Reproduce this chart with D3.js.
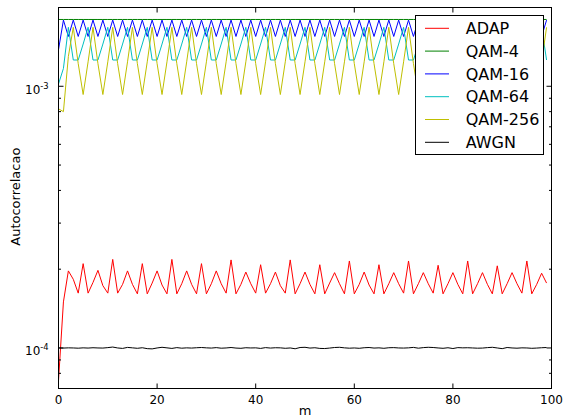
<!DOCTYPE html>
<html><head><meta charset="utf-8">
<script src="https://cdn.jsdelivr.net/npm/d3@7"></script>
<style>html,body{margin:0;padding:0;background:#fff;} svg{display:block;font-family:"DejaVu Sans",sans-serif;}</style>
</head><body><svg id="c" width="564" height="416"></svg>
<script>
// lag index m
const lags = d3.range(0, 100);
// series names and colours
const seriesNames = ["ADAP", "QAM-4", "QAM-16", "QAM-64", "QAM-256", "AWGN"];
const seriesColors = ["#ff0000", "#008000", "#0000ff", "#00bfbf", "#bfbf00", "#000000"];

// ADAP (x1e-4)
const adapE4 = [
0.75,1.50,1.97,1.83,1.62,2.10,1.62,1.78,1.98,1.73,
1.62,2.18,1.62,1.75,1.97,1.75,1.61,2.10,1.61,1.77,
1.97,1.74,1.61,2.18,1.61,1.76,1.97,1.75,1.61,2.10,
1.61,1.76,1.97,1.76,1.62,2.17,1.61,1.75,1.95,1.76,
1.62,2.08,1.62,1.76,1.95,1.73,1.62,2.17,1.61,1.76,
1.95,1.75,1.61,2.08,1.61,1.77,1.94,1.76,1.61,2.15,
1.61,1.75,1.95,1.74,1.61,2.08,1.61,1.76,1.94,1.76,
1.62,2.15,1.61,1.76,1.94,1.76,1.62,2.07,1.61,1.76,
1.94,1.75,1.61,2.15,1.61,1.76,1.94,1.75,1.61,2.06,
1.61,1.76,1.94,1.76,1.62,2.15,1.61,1.75,1.93,1.77];
// QAM-4 (x1e-3)
const qam4E3 = [
1.80,1.80,1.80,1.80,1.80,1.80,1.80,1.80,1.80,1.80,
1.80,1.80,1.80,1.80,1.80,1.80,1.80,1.80,1.80,1.80,
1.80,1.80,1.80,1.80,1.80,1.80,1.80,1.80,1.80,1.80,
1.80,1.80,1.80,1.80,1.80,1.80,1.80,1.80,1.80,1.80,
1.80,1.80,1.80,1.80,1.80,1.80,1.80,1.80,1.80,1.80,
1.80,1.80,1.80,1.80,1.80,1.80,1.80,1.80,1.80,1.80,
1.80,1.80,1.80,1.80,1.80,1.80,1.80,1.80,1.80,1.80,
1.80,1.80,1.80,1.80,1.80,1.80,1.80,1.80,1.80,1.80,
1.80,1.80,1.80,1.80,1.80,1.80,1.80,1.80,1.80,1.80,
1.80,1.80,1.80,1.80,1.80,1.80,1.80,1.80,1.80,1.80];
// QAM-16 (x1e-3)
const qam16E3 = [
1.38,1.79,1.55,1.79,1.55,1.79,1.55,1.79,1.55,1.79,
1.55,1.79,1.55,1.79,1.55,1.79,1.55,1.79,1.55,1.79,
1.55,1.79,1.55,1.79,1.55,1.79,1.55,1.79,1.55,1.79,
1.55,1.79,1.55,1.79,1.55,1.79,1.55,1.79,1.55,1.79,
1.55,1.79,1.55,1.79,1.55,1.79,1.55,1.79,1.55,1.79,
1.55,1.79,1.55,1.79,1.55,1.79,1.55,1.79,1.55,1.79,
1.55,1.79,1.55,1.79,1.55,1.79,1.55,1.79,1.55,1.79,
1.55,1.79,1.55,1.79,1.55,1.79,1.55,1.79,1.55,1.79,
1.55,1.79,1.55,1.79,1.55,1.79,1.55,1.79,1.55,1.79,
1.55,1.79,1.55,1.79,1.55,1.79,1.55,1.79,1.55,1.79];
// QAM-64 (x1e-3)
const qam64E3 = [
1.02,1.17,1.68,1.26,1.26,1.45,1.68,1.26,1.26,1.45,
1.68,1.26,1.26,1.45,1.68,1.26,1.26,1.45,1.68,1.26,
1.26,1.45,1.68,1.26,1.26,1.45,1.68,1.26,1.26,1.45,
1.68,1.26,1.26,1.45,1.68,1.26,1.26,1.45,1.68,1.26,
1.26,1.45,1.68,1.26,1.26,1.45,1.68,1.26,1.26,1.45,
1.68,1.26,1.26,1.45,1.68,1.26,1.26,1.45,1.68,1.26,
1.26,1.45,1.68,1.26,1.26,1.45,1.68,1.26,1.26,1.45,
1.68,1.26,1.26,1.45,1.68,1.26,1.26,1.45,1.68,1.26,
1.26,1.45,1.68,1.26,1.26,1.45,1.68,1.26,1.26,1.45,
1.68,1.26,1.26,1.45,1.68,1.26,1.26,1.45,1.68,1.26];
// QAM-256 (x1e-3)
const qam256E3 = [
0.82,0.80,1.30,1.68,1.22,0.93,1.24,1.68,1.22,0.93,
1.24,1.68,1.22,0.93,1.24,1.68,1.22,0.93,1.24,1.68,
1.22,0.93,1.24,1.68,1.22,0.93,1.24,1.68,1.22,0.93,
1.24,1.68,1.22,0.93,1.24,1.68,1.22,0.93,1.24,1.68,
1.22,0.93,1.24,1.68,1.22,0.93,1.24,1.68,1.22,0.93,
1.24,1.68,1.22,0.93,1.24,1.68,1.22,0.93,1.24,1.68,
1.22,0.93,1.24,1.68,1.22,0.93,1.24,1.68,1.22,0.93,
1.24,1.68,1.22,0.93,1.24,1.68,1.22,0.93,1.24,1.68,
1.22,0.93,1.24,1.68,1.22,0.93,1.24,1.68,1.22,0.93,
1.24,1.68,1.22,0.93,1.24,1.68,1.22,0.93,1.24,1.68];
// AWGN (x1e-4)
const awgnE4 = [
1.000,0.999,1.001,1.000,0.998,1.001,0.999,1.002,1.000,0.999,
1.003,1.008,1.000,0.996,1.005,1.001,0.997,1.002,0.994,0.992,
1.000,1.006,1.001,0.996,1.003,0.998,1.001,0.999,1.002,1.004,
1.001,0.999,1.003,0.998,1.000,1.004,0.999,0.997,1.002,1.000,
1.001,0.996,1.003,0.999,1.002,1.001,0.997,1.000,0.993,1.004,
1.006,0.999,1.002,0.996,0.995,0.999,1.004,1.006,1.001,0.998,
1.000,0.997,1.002,1.004,0.999,1.001,0.997,1.002,1.003,1.000,
0.999,1.001,1.005,0.998,1.003,1.006,1.004,1.000,0.997,1.002,
0.995,1.003,1.001,1.002,1.000,0.998,0.999,1.003,1.006,1.000,
0.994,1.004,1.000,0.998,1.001,1.000,0.997,0.999,1.002,1.004];

const xTicks = [0, 20, 40, 60, 80, 100];
const yMajorTicks = [1e-4, 1e-3];
const yMajorExp = ["-4", "-3"];
const yMinorTicks = [8e-5, 9e-5, 2e-4, 3e-4, 4e-4, 5e-4, 6e-4, 7e-4, 8e-4, 9e-4];

const seriesData = [
  adapE4.map(v => v * 1e-4),
  qam4E3.map(v => v * 1e-3),
  qam16E3.map(v => v * 1e-3),
  qam64E3.map(v => v * 1e-3),
  qam256E3.map(v => v * 1e-3),
  awgnE4.map(v => v * 1e-4)
];

const L = 58.5, R = 551.5, T = 7.5, B = 388.5;
const svg = d3.select("#c");
svg.append("rect").attr("width", 564).attr("height", 416).attr("fill", "#fff");

const x = d3.scaleLinear().domain([0, 100]).range([L, R]);
const y = d3.scaleLog().domain([7e-5, 2e-3]).range([B, T]);

svg.append("defs").append("clipPath").attr("id", "clip")
  .append("rect").attr("x", L).attr("y", T).attr("width", R - L).attr("height", B - T);

const line = d3.line().x((d, i) => x(lags[i])).y(d => y(d));
const plot = svg.append("g").attr("clip-path", "url(#clip)");
seriesData.forEach((s, k) => {
  plot.append("path").datum(s).attr("d", line)
    .attr("fill", "none").attr("stroke", seriesColors[k]).attr("stroke-width", 1)
    .attr("stroke-linejoin", "round");
});

function styleAxis(g) {
  g.select(".domain").remove();
  g.selectAll(".tick line").attr("stroke", "#000").attr("stroke-width", 1);
}
// bottom
svg.append("g").attr("transform", `translate(0,${B})`)
  .call(d3.axisBottom(x).tickValues(xTicks).tickSizeInner(-5).tickSizeOuter(0).tickPadding(6.5).offset(0).tickFormat(d3.format("d")))
  .call(styleAxis)
  .call(g => g.selectAll("text").attr("font-size", 12).attr("font-family", "DejaVu Sans").attr("fill", "#000"));
// top
svg.append("g").attr("transform", `translate(0,${T})`)
  .call(d3.axisTop(x).tickValues(xTicks).tickSizeInner(-5).tickSizeOuter(0).offset(0).tickFormat(""))
  .call(styleAxis);
// left major / minor
svg.append("g").attr("transform", `translate(${L},0)`)
  .call(d3.axisLeft(y).tickValues(yMajorTicks).tickSizeInner(-5).tickSizeOuter(0).offset(0).tickFormat(""))
  .call(styleAxis);
svg.append("g").attr("transform", `translate(${L},0)`)
  .call(d3.axisLeft(y).tickValues(yMinorTicks).tickSizeInner(-2.5).tickSizeOuter(0).offset(0).tickFormat(""))
  .call(styleAxis);
// right major / minor
svg.append("g").attr("transform", `translate(${R},0)`)
  .call(d3.axisRight(y).tickValues(yMajorTicks).tickSizeInner(-5).tickSizeOuter(0).offset(0).tickFormat(""))
  .call(styleAxis);
svg.append("g").attr("transform", `translate(${R},0)`)
  .call(d3.axisRight(y).tickValues(yMinorTicks).tickSizeInner(-2.5).tickSizeOuter(0).offset(0).tickFormat(""))
  .call(styleAxis);

// y major labels 10^e
yMajorTicks.forEach((v, i) => {
  const t = svg.append("text").attr("x", 25).attr("y", y(v) + 7.3)
    .attr("font-size", 12).attr("fill", "#000");
  t.append("tspan").text("10");
  t.append("tspan").attr("font-size", 8.4).attr("dy", -5).text(yMajorExp[i]);
});

// frame
svg.append("rect").attr("x", L).attr("y", T).attr("width", R - L).attr("height", B - T)
  .attr("fill", "none").attr("stroke", "#000").attr("stroke-width", 1);

// axis labels
svg.append("text").attr("x", (L + R) / 2).attr("y", 415.4).attr("text-anchor", "middle")
  .attr("font-size", 13).attr("fill", "#000").text("m");
svg.append("text").attr("transform", "translate(19.5,196.7) rotate(-90)").attr("text-anchor", "middle")
  .attr("font-size", 13).attr("fill", "#000").text("Autocorrelacao");

// legend
const lg = svg.append("g");
lg.append("rect").attr("x", 415.5).attr("y", 15.5).attr("width", 128).attr("height", 139)
  .attr("fill", "#fff").attr("stroke", "#000").attr("stroke-width", 1);
seriesNames.forEach((n, i) => {
  const yy = 28.3 + i * 22.8;
  lg.append("line").attr("x1", 425).attr("x2", 449).attr("y1", yy).attr("y2", yy)
    .attr("stroke", seriesColors[i]).attr("stroke-width", 1);
  lg.append("text").attr("x", 465.7).attr("y", yy + 5.7).attr("font-size", 16).attr("fill", "#000").text(n);
});
</script></body></html>
